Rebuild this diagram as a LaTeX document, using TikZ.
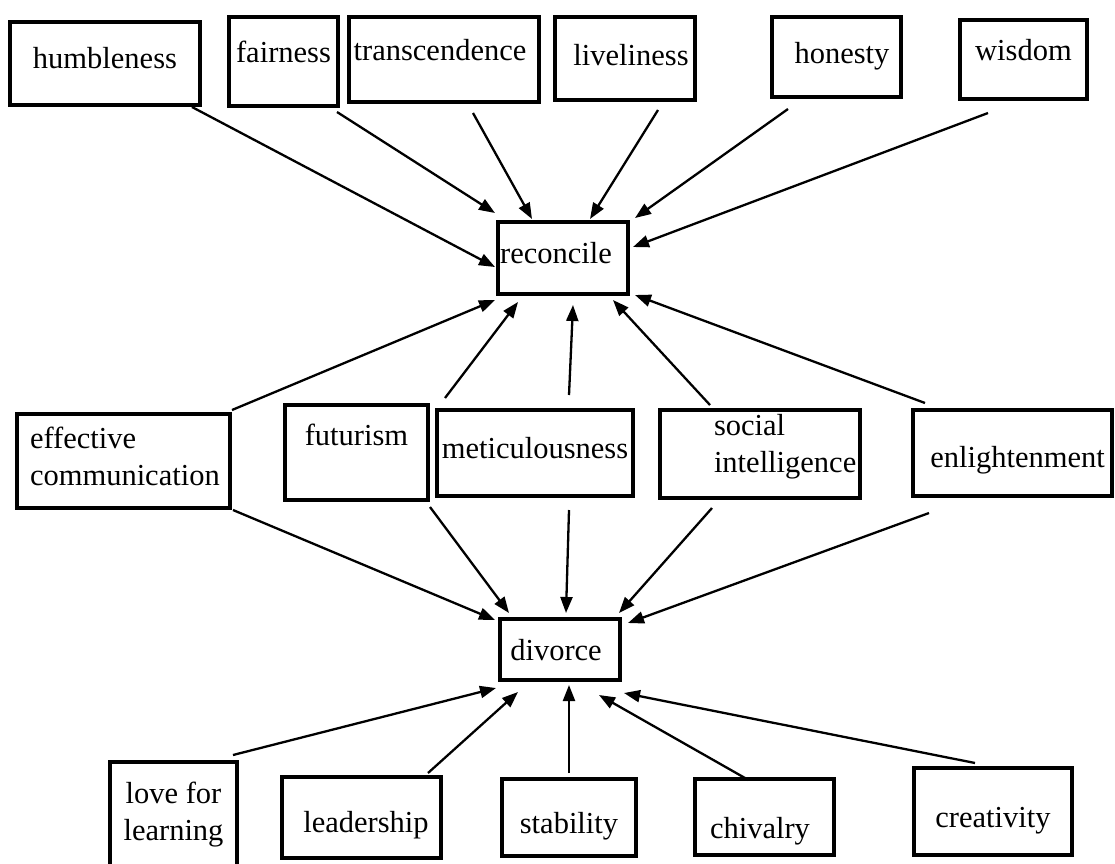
\documentclass[tikz,border=0pt]{standalone}
\usepackage{fontspec}
\setmainfont{Liberation Serif}
\usetikzlibrary{arrows.meta}
\tikzset{
  box/.style={draw, line width=4.5pt, inner xsep=0pt, inner ysep=0pt, outer sep=0pt,
    anchor=north west, font=\fontsize{30.5}{37.5}\selectfont},
  arr/.style={line width=2.3pt, -{Triangle[length=16pt,width=12pt]}}
}
\begin{document}
\begin{tikzpicture}[x=1pt,y=-1pt]
\path[use as bounding box, fill=white] (0,0) rectangle (1115,863);
% top row
\node[box, minimum width=190pt, text height=46pt, text depth=37pt] (humbleness) at (10,22) {humbleness};
\node[box, minimum width=109pt, text height=45pt, text depth=44pt] (fairness) at (229,17) {fairness};
\node[box, minimum width=190pt, text height=43pt, text depth=42pt] (transcendence) at (349,17) {transcendence\hspace*{8pt}};
\node[box, minimum width=140pt, text height=48pt, text depth=35pt] (liveliness) at (555,17) {\hspace*{12pt}liveliness};
\node[box, minimum width=129pt, text height=46pt, text depth=34pt] (honesty) at (772,17) {\hspace*{11pt}honesty};
\node[box, minimum width=127pt, text height=40pt, text depth=39pt] (wisdom) at (960,20) {wisdom};
% reconcile
\node[box, minimum width=130pt, text height=41pt, text depth=31pt] (reconcile) at (498,222) {reconcile\hspace*{14pt}};
% middle row
\node[box, text width=213pt, align=flush left, text height=34pt, text depth=60pt] (effcomm) at (17,414) {\hspace*{13pt}effective\\\hspace*{13pt}communication};
\node[box, minimum width=143pt, text height=40pt, text depth=55pt] (futurism) at (285,405) {futurism};
\node[box, minimum width=196pt, text height=48pt, text depth=38pt] (meticulousness) at (437,410) {meticulousness};
\node[box, text width=200pt, align=flush left, text height=25pt, text depth=63pt] (social) at (660,410) {\hspace*{54pt}social\\\hspace*{54pt}intelligence};
\node[box, minimum width=199pt, text height=57pt, text depth=29pt] (enlightenment) at (913,410) {\hspace*{10pt}enlightenment};
% divorce
\node[box, minimum width=120pt, text height=41pt, text depth=20pt] (divorce) at (500,619) {divorce\hspace*{8pt}};
% bottom row
\node[box, text width=127pt, align=flush center, text height=41pt, text depth=63pt] (love) at (110,762) {love for\\learning};
\node[box, minimum width=159pt, text height=55pt, text depth=26pt] (leadership) at (282,777) {\hspace*{9pt}leadership};
\node[box, minimum width=134pt, text height=54pt, text depth=23pt] (stability) at (502,779) {stability};
\node[box, minimum width=139pt, text height=59pt, text depth=17pt] (chivalry) at (695,779) {chivalry\hspace*{9pt}};
\node[box, minimum width=158pt, text height=59pt, text depth=28pt] (creativity) at (914,768) {creativity};
% arrows into reconcile from above
\draw[arr] ([shift={(-8,2)}]humbleness.south east) -- ([shift={(-3,9)}]reconcile.west);
\draw[arr] ([shift={(-1,6)}]fairness.south east) -- ([shift={(-3,-9)}]reconcile.north west);
\draw[arr] ([shift={(29,11)}]transcendence.south) -- ([shift={(-31,-3)}]reconcile.north);
\draw[arr] ([shift={(33,10)}]liveliness.south) -- ([shift={(27,-3)}]reconcile.north);
\draw[arr] ([shift={(16,12)}]honesty.south west) -- ([shift={(7,-4)}]reconcile.north east);
\draw[arr] ([shift={(28,14)}]wisdom.south west) -- ([shift={(5,-11)}]reconcile.east);
% arrows into reconcile from below
\draw[arr] ([shift={(2,-4)}]effcomm.north east) -- ([shift={(-3,6)}]reconcile.south west);
\draw[arr] ([shift={(17,-7)}]futurism.north east) -- ([shift={(-45,8)}]reconcile.south);
\draw[arr] ([shift={(34,-15)}]meticulousness.north) -- ([shift={(10,11)}]reconcile.south);
\draw[arr] ([shift={(-50,-5)}]social.north) -- ([shift={(-15,6)}]reconcile.south east);
\draw[arr] ([shift={(12,-7)}]enlightenment.north west) -- ([shift={(7,1)}]reconcile.south east);
% arrows into divorce from above
\draw[arr] ([shift={(3,2)}]effcomm.south east) -- ([shift={(-5,1)}]divorce.north west);
\draw[arr] ([shift={(2,7)}]futurism.south east) -- ([shift={(9,-6)}]divorce.north west);
\draw[arr] ([shift={(34,14)}]meticulousness.south) -- ([shift={(6,-6)}]divorce.north);
\draw[arr] ([shift={(-48,10)}]social.south) -- ([shift={(-1,-6)}]divorce.north east);
\draw[arr] ([shift={(16,17)}]enlightenment.south west) -- ([shift={(8,4)}]divorce.north east);
% arrows into divorce from below
\draw[arr] ([shift={(-4,-7)}]love.north east) -- ([shift={(-4,8)}]divorce.south west);
\draw[arr] ([shift={(-13,-4)}]leadership.north east) -- ([shift={(18,12)}]divorce.south west);
\draw[arr] ([shift={(0,-6)}]stability.north) -- ([shift={(9,5)}]divorce.south);
\draw[arr] ([shift={(-16,1)}]chivalry.north) -- ([shift={(39,15)}]divorce.south);
\draw[arr] ([shift={(-18,-5)}]creativity.north) -- ([shift={(4,13)}]divorce.south east);
\end{tikzpicture}
\end{document}
